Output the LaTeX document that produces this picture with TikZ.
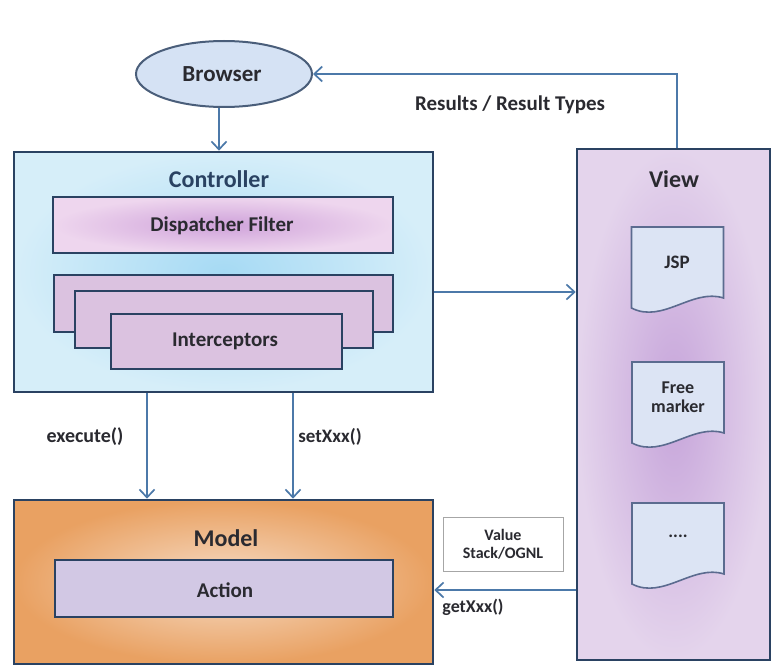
\documentclass[tikz,border=0pt]{standalone}
\usepackage{fontspec}
\setmainfont{Carlito}
\usetikzlibrary{arrows.meta,shapes.geometric}
\definecolor{bord}{HTML}{2A4262}
\definecolor{arrowc}{HTML}{4C79A9}
\definecolor{txt}{HTML}{2A2A30}
\definecolor{docb}{HTML}{5B6B8F}
\definecolor{docfill}{HTML}{DCE4F4}
\definecolor{ellfill}{HTML}{D5E2F4}
\definecolor{ctrlin}{HTML}{A6DAF4}
\definecolor{ctrlout}{HTML}{D6EEF9}
\definecolor{dispin}{HTML}{CFA2DA}
\definecolor{dispout}{HTML}{EED6EE}
\definecolor{intfill}{HTML}{DBC2E0}
\definecolor{viewin}{HTML}{C6A4DA}
\definecolor{viewout}{HTML}{E4D4EC}
\definecolor{modin}{HTML}{F6DCC6}
\definecolor{modout}{HTML}{E9A162}
\definecolor{actfill}{HTML}{D2C8E4}
\tikzset{
  box/.style={draw=bord, line width=2.6pt, rectangle, inner sep=0pt},
  lbl/.style={font=\bfseries\fontsize{24}{28}\selectfont, text=txt, inner sep=0pt},
  slbl/.style={font=\bfseries\fontsize{21}{24}\selectfont, text=txt, inner sep=0pt},
  clbl/.style={font=\bfseries\fontsize{19}{22}\selectfont, text=txt, inner sep=0pt},
  dlbl/.style={font=\bfseries\fontsize{18}{19}\selectfont, text=txt, inner sep=0pt, align=center},
  arr/.style={draw=arrowc, line width=2.2pt, -{Straight Barb[length=8pt,width=15pt,line width=1.7pt]}},
  docstyle/.style={draw=docb, line width=1.6pt, fill=docfill},
  docpic/.pic={\draw[docstyle] (-46,-43) -- (46,-43) -- (46,28) .. controls (15,18) and (-15,54) .. (-46,38) -- cycle;}
}
\begin{document}
\begin{tikzpicture}[x=1pt,y=-1pt]
\useasboundingbox (0,0) rectangle (772,669);
\fill[white] (0,0) rectangle (772,669);
% Browser
\node[ellipse, draw=bord!85, line width=2pt, fill=ellfill, minimum width=176pt, minimum height=66pt] (browser) at (224,74) {};
\node[lbl, font=\bfseries\fontsize{23}{26}\selectfont] (browsert) at (222,74) {Browser};
% Controller
\node[box, inner color=ctrlin, outer color=ctrlout, minimum width=419pt, minimum height=240pt] (controller) at (223.5,272) {};
\node[lbl, text=bord] (controllert) at (219,179) {Controller};
\node[box, inner color=dispin, outer color=dispout, minimum width=340pt, minimum height=56pt] (dispatcher) at (223,225) {};
\node[slbl] (dispatchert) at (222,226) {Dispatcher Filter};
\node[box, fill=intfill, minimum width=339pt, minimum height=57pt] (int1) at (223.5,303.5) {};
\node[box, fill=intfill, minimum width=298pt, minimum height=57pt] (int2) at (224,319.5) {};
\node[box, fill=intfill, minimum width=231pt, minimum height=55pt] (int3) at (226.5,341.5) {};
\node[slbl] (int3t) at (225,341) {Interceptors};
% View
\node[box, inner color=viewin, outer color=viewout, minimum width=193pt, minimum height=511pt] (view) at (673.5,404.5) {};
\node[lbl] (viewt) at (674,179) {View};
\pic at (677.5,270) {docpic};
\node[dlbl, font=\bfseries\fontsize{19}{20}\selectfont] (jsp) at (677,262) {JSP};
\pic at (678,405) {docpic};
\node[dlbl] (free) at (678,397) {Free\\marker};
\pic at (678,546) {docpic};
\node[dlbl] (dots) at (678,536) {....};
% Model
\node[box, inner color=modin, outer color=modout, minimum width=419pt, minimum height=164pt] (model) at (223.5,582) {};
\node[lbl] (modelt) at (226,538) {Model};
\node[box, fill=actfill, minimum width=338pt, minimum height=57pt] (action) at (224,588.5) {};
\node[slbl] (actiont) at (225,590) {Action};
% Value stack box
\node[draw=gray!70, line width=1pt, fill=white, minimum width=120pt, minimum height=54pt, align=center, font=\bfseries\fontsize{16}{18}\selectfont, text=txt, inner sep=0pt] (valuebox) at (503,544) {Value\\Stack/OGNL};
% Connectors
\draw[arr] ([xshift=-5pt]browser.south) -- ([xshift=-5pt]browser.south |- controller.north);
\draw[arr] ([xshift=3.5pt]view.north) |- (browser.east);
\node[slbl] (results) at (510,105) {Results / Result Types};
\draw[arr] ([yshift=-20pt]controller.east) -- ([yshift=-20pt]controller.east -| view.west);
\draw[arr] ([xshift=-76.5pt]controller.south) -- ([xshift=-76.5pt]controller.south |- model.north);
\node[clbl, font=\bfseries\fontsize{20}{22}\selectfont] (exec) at (85,437) {execute()};
\draw[arr] ([xshift=69.5pt]controller.south) -- ([xshift=69.5pt]controller.south |- model.north);
\node[clbl] (setx) at (330,437) {setXxx()};
\draw[arr] ([yshift=-185.5pt]view.west) -- ([yshift=-185.5pt]view.west -| model.east);
\node[clbl, font=\bfseries\fontsize{18}{20}\selectfont] (getx) at (473,607) {getXxx()};
\end{tikzpicture}
\end{document}
